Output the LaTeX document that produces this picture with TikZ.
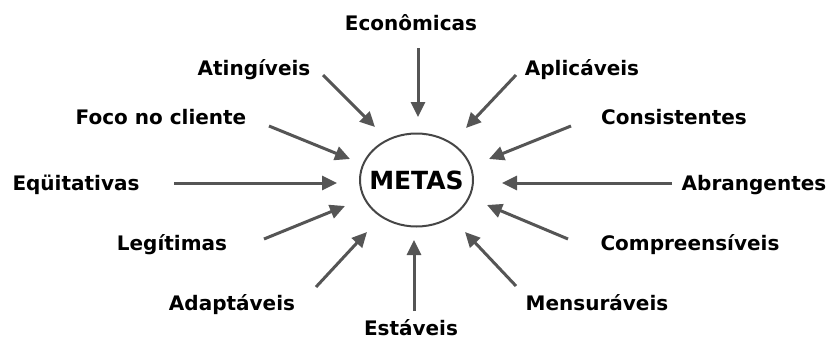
\documentclass[tikz,border=0pt]{standalone}
\usepackage{fontspec}
\setmainfont{DejaVu Sans}
\definecolor{arrowGray}{RGB}{85,85,85}
\definecolor{ringGray}{RGB}{70,70,70}
\usetikzlibrary{shapes,arrows.meta,positioning}

\begin{document}
\begin{tikzpicture}[x=1pt,y=-1pt,
        lbl/.style={font=\fontsize{20}{24}\selectfont\bfseries,anchor=base,inner sep=0pt},
        pointer/.style={draw=arrowGray,line width=3pt,-{Triangle[length=15pt,width=14pt]}}]
    \useasboundingbox (0,0) rectangle (828,341);
    \node[font=\fontsize{25}{30}\selectfont\bfseries,inner sep=0pt] (metas) at (416.5,180) {METAS};
    \draw[ringGray,line width=2pt] (metas.center) ellipse [x radius=56.5pt,y radius=46.5pt];

    \node[lbl] (econ) at (411,30) {Econômicas};
    \node[lbl] (atin) at (254,75) {Atingíveis};
    \node[lbl] (apli) at (582,75) {Aplicáveis};
    \node[lbl] (foco) at (161,124) {Foco no cliente};
    \node[lbl] (cons) at (674,124) {Consistentes};
    \node[lbl] (equi) at (76,190) {Eqüitativas};
    \node[lbl] (abra) at (754,190) {Abrangentes};
    \node[lbl] (legi) at (172,250) {Legítimas};
    \node[lbl] (comp) at (690,250) {Compreensíveis};
    \node[lbl] (adap) at (232,310) {Adaptáveis};
    \node[lbl] (mens) at (597,310) {Mensuráveis};
    \node[lbl] (esta) at (411,335) {Estáveis};

    \coordinate (econ-a) at (418,48);  \coordinate (econ-b) at (418,117);
    \coordinate (atin-a) at (323,75);  \coordinate (atin-b) at (375,127);
    \coordinate (apli-a) at (516,75);  \coordinate (apli-b) at (466,128);
    \coordinate (foco-a) at (269,126); \coordinate (foco-b) at (350,159);
    \coordinate (cons-a) at (571,126); \coordinate (cons-b) at (489,159);
    \coordinate (equi-a) at (174,183); \coordinate (equi-b) at (337,183);
    \coordinate (abra-a) at (672,183); \coordinate (abra-b) at (502,183);
    \coordinate (legi-a) at (264,239); \coordinate (legi-b) at (345,206);
    \coordinate (comp-a) at (568,239); \coordinate (comp-b) at (487,205);
    \coordinate (adap-a) at (316,287); \coordinate (adap-b) at (367,232);
    \coordinate (mens-a) at (516,286); \coordinate (mens-b) at (465,232);
    \coordinate (esta-a) at (414,311); \coordinate (esta-b) at (414,240);

    \draw[pointer] (econ-a) -- (econ-b);
    \draw[pointer] (atin-a) -- (atin-b);
    \draw[pointer] (apli-a) -- (apli-b);
    \draw[pointer] (foco-a) -- (foco-b);
    \draw[pointer] (cons-a) -- (cons-b);
    \draw[pointer] (equi-a) -- (equi-b);
    \draw[pointer] (abra-a) -- (abra-b);
    \draw[pointer] (legi-a) -- (legi-b);
    \draw[pointer] (comp-a) -- (comp-b);
    \draw[pointer] (adap-a) -- (adap-b);
    \draw[pointer] (mens-a) -- (mens-b);
    \draw[pointer] (esta-a) -- (esta-b);
\end{tikzpicture}
\end{document}
